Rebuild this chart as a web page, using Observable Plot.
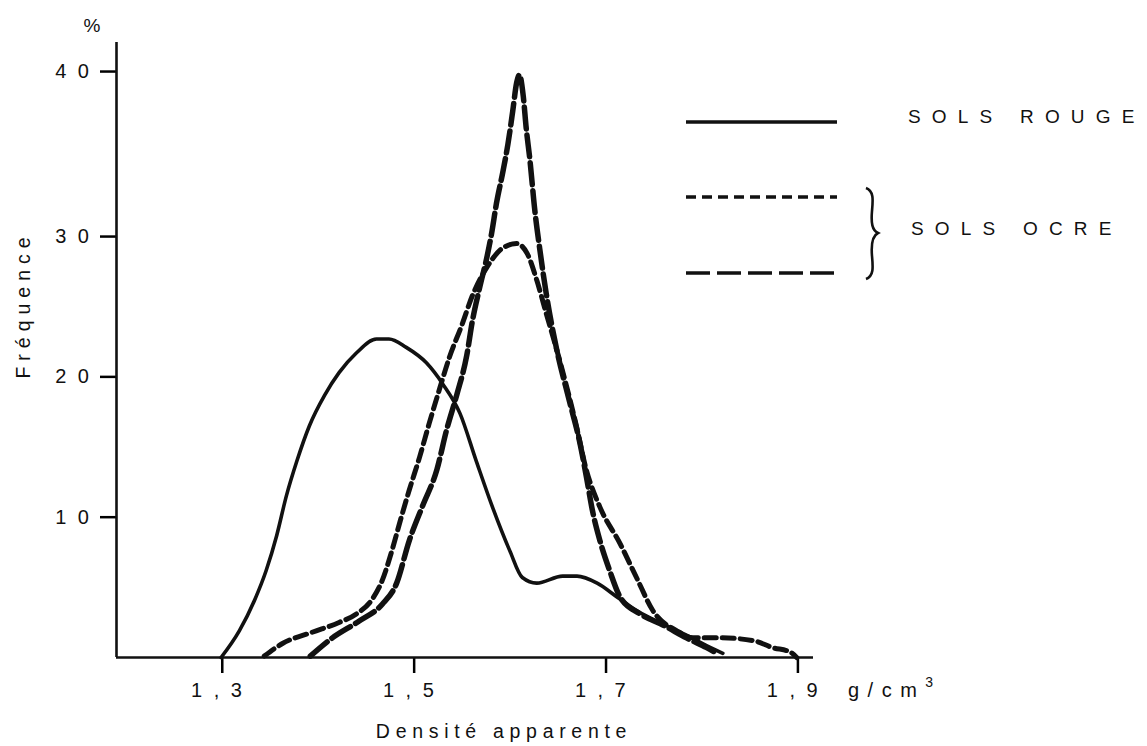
<!DOCTYPE html>
<html><head><meta charset="utf-8">
<script src="https://cdn.jsdelivr.net/npm/d3@7"></script>
<script src="https://cdn.jsdelivr.net/npm/@observablehq/plot@0.6"></script>
<style>
html,body{margin:0;padding:0;background:#fff;}
#chart svg{background:#fff;}
#chart svg text{font-family:"Liberation Sans",Arial,Helvetica,sans-serif;fill:#111;}
</style></head><body><div id="chart"></div>
<script>
// Sols rouges (trait plein)
const rougeX = [1.305,1.324,1.340,1.352,1.363,1.373,1.384,1.397,1.413,1.428,1.446,1.467,1.480,1.498,1.519,1.536,1.554,1.571,1.588,1.606,1.619,1.634,1.661,1.676,1.697,1.718,1.738,1.762,1.790,1.811,1.828];
const rougeY = [0,1.9,4.1,6.2,8.7,11.5,14.0,16.5,18.7,20.3,21.7,22.7,22.7,22.1,21.0,19.5,17.4,14.0,10.7,7.6,5.7,5.3,5.8,5.8,5.3,4.3,3.35,2.5,1.6,0.85,0.3];
// Sols ocres (tirets courts)
const ocre1X = [1.350,1.369,1.400,1.428,1.446,1.463,1.473,1.483,1.492,1.501,1.512,1.522,1.533,1.543,1.556,1.567,1.582,1.599,1.613,1.624,1.634,1.644,1.655,1.674,1.686,1.700,1.721,1.738,1.755,1.780,1.797,1.825,1.860,1.880,1.898,1.905];
const ocre1Y = [0.1,1.0,1.8,2.5,3.1,4.2,5.5,7.6,9.8,11.9,14.3,16.7,19.2,21.4,23.7,25.8,27.8,29.2,29.5,28.8,26.9,24.5,21.9,16.9,13.3,10.7,8.1,5.7,3.35,1.9,1.4,1.4,1.2,0.7,0.4,0];
// Sols ocres (tirets longs)
const ocre2X = [1.398,1.421,1.449,1.473,1.488,1.501,1.515,1.530,1.540,1.551,1.561,1.567,1.575,1.582,1.587,1.592,1.599,1.604,1.609,1.613,1.616,1.620,1.623,1.627,1.632,1.637,1.644,1.655,1.668,1.679,1.686,1.692,1.700,1.710,1.721,1.742,1.766,1.790,1.811,1.822];
const ocre2Y = [0.1,1.4,2.6,3.8,5.3,8.3,10.8,13.4,16.2,18.8,21.5,24.0,26.5,28.5,30.2,32.0,34.0,35.6,37.6,39.3,39.8,38.5,36.6,34.6,31.6,29.2,25.9,21.9,18.3,15.3,12.8,10.5,8.3,6.2,4.3,3.1,2.3,1.4,0.7,0.3];

const xTicks = [1.3,1.5,1.7,1.9];
const yTicks = [10,20,30,40];
const legendLabels = ["SOLS ROUGE","SOLS OCRE"];

const toRows = (xs, ys) => xs.map((x, i) => ({x, y: ys[i]}));
const rouge = toRows(rougeX, rougeY);
const ocre1 = toRows(ocre1X, ocre1Y);
const ocre2 = toRows(ocre2X, ocre2Y);

const W = 1147, H = 746;
const xDomain = [1.196, 1.9225];
// the original drawing's axis is stretched above 30 %
const k = 16.5 / 14.03;
const stretch = v => v <= 30 ? v : 30 + (v - 30) * k;
const unstretch = v => v <= 30 ? v : 30 + (v - 30) / k;

const svg = Plot.plot({
  width: W, height: H,
  marginLeft: 116, marginRight: W - 813, marginTop: 42, marginBottom: H - 657,
  x: {domain: xDomain},
  y: {transform: stretch, domain: [0, stretch(41.76)]},
  style: {fontFamily: '"Liberation Sans",Arial,sans-serif', background: "#fff"},
  marks: [
    Plot.axisY({ticks: yTicks.map(stretch), tickSize: 16, tickPadding: 0, fontSize: 20, label: null, strokeWidth: 2.5,
      tickFormat: d => String(Math.round(unstretch(d)))}),
    Plot.axisX({ticks: xTicks, tickSize: 16, tickPadding: 9, fontSize: 20, label: null, strokeWidth: 2.5, dx: 6,
      tickFormat: d => d.toFixed(1).replace(".", ",")}),
    Plot.ruleX([xDomain[0]], {strokeWidth: 2.6, stroke: "#111"}),
    Plot.ruleY([0], {strokeWidth: 2.6, stroke: "#111"}),
    Plot.line(rouge, {x: "x", y: "y", curve: "monotone-x", stroke: "#111", strokeWidth: 3.6}),
    Plot.line(ocre1, {x: "x", y: "y", curve: "monotone-x", stroke: "#111", strokeWidth: 5, strokeDasharray: "12,6"}),
    Plot.line(ocre2, {x: "x", y: "y", curve: "monotone-x", stroke: "#111", strokeWidth: 5.5, strokeDasharray: "22,6"})
  ]
});

const s = d3.select(svg);
s.selectAll('g[aria-label="x-axis tick label"] text, g[aria-label="y-axis tick label"] text').style("letter-spacing", "11.5px");

const font = '"Liberation Sans",Arial,Helvetica,sans-serif';
const g = s.append("g").attr("font-family", font).attr("fill", "#111").attr("text-anchor", "start");

// axis titles
g.append("text").attr("x", 92).attr("y", 32).attr("text-anchor", "middle").attr("font-size", 19).text("%");
g.append("text").attr("transform", "translate(30,308) rotate(-90)").attr("dx", 3).attr("text-anchor", "middle")
  .attr("font-size", 19.5).style("letter-spacing", "6px").text("Fréquence");
g.append("text").attr("x", 504).attr("y", 738).attr("text-anchor", "middle").attr("font-size", 19.5)
  .style("letter-spacing", "5.7px").text("Densité apparente");
const unit = g.append("text").attr("x", 848).attr("y", 697).attr("text-anchor", "start").attr("font-size", 20).style("letter-spacing", "8.5px");
unit.append("tspan").text("g/cm");
unit.append("tspan").attr("dy", -10).attr("font-size", 14).style("letter-spacing", "0px").text("3");

// legend
const leg = s.append("g").attr("text-anchor", "start");
leg.append("line").attr("x1", 686).attr("x2", 837).attr("y1", 122).attr("y2", 122).attr("stroke", "#111").attr("stroke-width", 3.4);
leg.append("line").attr("x1", 686).attr("x2", 837).attr("y1", 197).attr("y2", 197).attr("stroke", "#111").attr("stroke-width", 3.6).attr("stroke-dasharray", "10,6");
leg.append("line").attr("x1", 686).attr("x2", 838).attr("y1", 273).attr("y2", 273).attr("stroke", "#111").attr("stroke-width", 3.6).attr("stroke-dasharray", "24,7");
leg.append("path").attr("d", "M866,188 C874,191 873,200 872,211 C871,223 872,230 878,233 C872,236 871,244 872,256 C873,267 874,276 866,279")
  .attr("fill", "none").attr("stroke", "#111").attr("stroke-width", 2.6);
leg.append("text").attr("x", 908).attr("y", 123).attr("text-anchor", "start").attr("font-family", font).attr("font-size", 19).attr("fill", "#111")
  .style("letter-spacing", "11.2px").text(legendLabels[0]);
leg.append("text").attr("x", 911).attr("y", 235).attr("text-anchor", "start").attr("font-family", font).attr("font-size", 19).attr("fill", "#111")
  .style("letter-spacing", "11.2px").text(legendLabels[1]);

document.getElementById("chart").appendChild(svg);
</script></body></html>
